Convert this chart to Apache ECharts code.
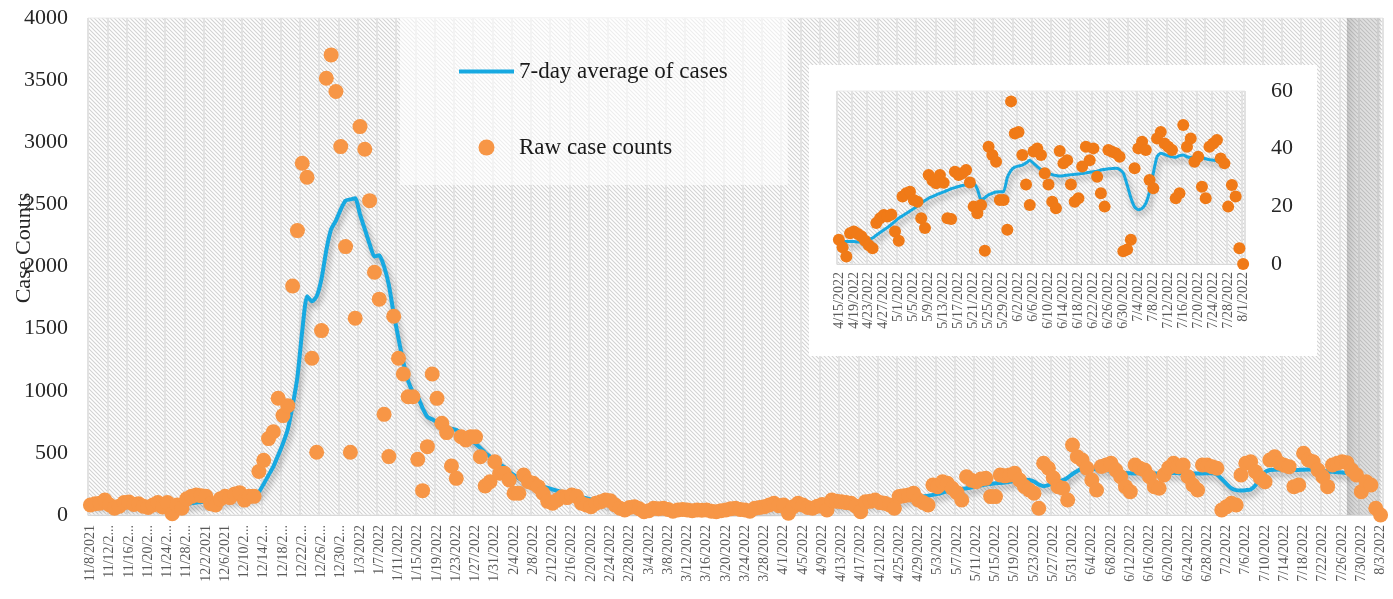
<!DOCTYPE html>
<html>
<head>
<meta charset="utf-8">
<script src="https://cdn.jsdelivr.net/npm/echarts@6/dist/echarts.min.js"></script>
<style>
  html, body { margin: 0; padding: 0; background: #fff; }
  #chart { width: 1393px; height: 599px; }
</style>
</head>
<body>
<div id="chart"></div>
<script>
// main chart: daily counts 11/8/2021 .. 8/3/2022
const mainStart = [2021, 11, 8];
const rawCases = [
  80, 90, 95, 120, 80, 55, 70, 100, 105, 85,
  90, 70, 60, 80, 100, 65, 100, 10, 80, 55,
  130, 150, 160, 155, 150, 90, 80, 130, 150, 140,
  170, 180, 120, 150, 150, 350, 440, 615, 670, 940,
  800, 880, 1843, 2289, 2831, 2718, 1261, 505, 1484, 3515,
  3703, 3408, 2965, 2160, 505, 1583, 3126, 2944, 2530, 1954,
  1737, 810, 470, 1600, 1262, 1135, 952, 952, 448, 196,
  550, 1135, 939, 738, 663, 394, 295, 630, 604, 630,
  630, 469, 233, 268, 429, 336, 336, 282, 175, 175,
  322, 268, 255, 228, 175, 110, 94, 121, 147, 140,
  161, 150, 94, 80, 67, 95, 107, 121, 115, 80,
  54, 40, 60, 67, 50, 27, 35, 54, 50, 54,
  45, 30, 40, 45, 40, 35, 40, 38, 40, 30,
  27, 35, 40, 50, 54, 45, 40, 30, 54, 60,
  67, 80, 94, 75, 80, 14, 67, 94, 80, 60,
  54, 70, 85, 40, 121, 110, 107, 100, 94, 70,
  27, 107, 110, 121, 100, 94, 80, 54, 148, 155,
  161, 175, 121, 100, 80, 241, 228, 268, 255, 215,
  180, 121, 308, 280, 268, 290, 295, 148, 148, 322,
  315, 322, 336, 282, 230, 201, 175, 54, 416, 376,
  300, 228, 215, 121, 563, 469, 443, 376, 282, 201,
  390, 402, 416, 362, 308, 228, 188, 402, 376, 362,
  308, 228, 215, 322, 380, 416, 389, 402, 308, 241,
  201, 402, 402, 389, 376, 40, 67, 94, 80, 322,
  416, 429, 349, 300, 268, 443, 469, 416, 400, 389,
  228, 241, 497, 443, 429, 362, 308, 228, 402, 416,
  429, 420, 362, 322, 188, 268, 241, 54, 0
];
const avgCases = [
  85, 86, 88, 88, 87, 86, 85, 84, 84, 83,
  82, 81, 80, 80, 79, 78, 77, 76, 78, 82,
  88, 95, 100, 105, 110, 115, 118, 120, 123, 128,
  133, 138, 140, 145, 150, 185, 250, 320, 390, 480,
  575, 690, 880, 1110, 1480, 1760, 1720, 1760, 1900, 2130,
  2300, 2370, 2460, 2530, 2540, 2550, 2420, 2300, 2180, 2080,
  2090, 2000, 1850, 1620, 1420, 1230, 1080, 990, 950, 860,
  790, 770, 745, 720, 705, 695, 685, 660, 630, 600,
  575, 540, 500, 470, 440, 410, 385, 350, 320, 295,
  270, 255, 245, 235, 228, 218, 205, 195, 185, 175,
  165, 155, 145, 135, 125, 115, 108, 100, 92, 85,
  78, 72, 68, 64, 60, 56, 53, 50, 48, 46,
  45, 44, 43, 42, 42, 41, 41, 40, 40, 40,
  40, 41, 42, 43, 45, 47, 50, 53, 56, 60,
  63, 66, 68, 70, 72, 74, 76, 78, 80, 80,
  80, 82, 85, 88, 90, 92, 93, 92, 90, 90,
  92, 95, 98, 100, 100, 102, 106, 112, 120, 128,
  135, 140, 145, 150, 155, 162, 170, 180, 190, 198,
  205, 210, 215, 222, 230, 238, 245, 250, 255, 258,
  262, 268, 275, 282, 285, 282, 270, 245, 232, 240,
  255, 268, 280, 300, 330, 355, 372, 375, 372, 368,
  365, 362, 355, 348, 342, 338, 336, 335, 336, 336,
  335, 334, 335, 336, 337, 338, 337, 336, 335, 334,
  334, 335, 336, 336, 325, 290, 250, 215, 200, 198,
  200, 205, 240, 300, 345, 362, 365, 366, 364, 362,
  362, 363, 365, 366, 364, 360, 355, 350, 348, 345,
  342, 338, 335, null, null, null, null, null, null
];
const mainShade = ['7/27/2022', '8/3/2022'];

// inset: 4/15/2022 .. 8/1/2022
const insetStart = [2022, 4, 15];
const insetRaw = [
  8.4, 5.8, 2.6, 10.7, 11.3, 10.5, 9.6, 8.1, 6.5, 5.5,
  14.2, 15.9, 17.0, 16.5, 17.2, 11.3, 8.1, 23.4, 24.5, 25.1,
  22.2, 21.6, 15.9, 12.5, 30.9, 29.0, 28.0, 30.9, 28.2, 15.9,
  15.6, 32.0, 30.9, 31.5, 32.6, 28.3, 19.9, 17.6, 20.5, 4.6,
  40.7, 37.8, 35.5, 22.2, 22.2, 11.9, 56.4, 45.3, 45.8, 37.8,
  27.6, 20.5, 39.0, 40.1, 37.8, 31.5, 27.6, 21.6, 19.3, 39.2,
  34.9, 36.0, 27.6, 21.6, 22.8, 33.8, 40.7, 36.0, 40.1, 30.3,
  24.5, 19.9, 39.5, 38.9, 38.4, 37.2, 4.4, 5.0, 8.4, 33.2,
  40.1, 42.4, 39.5, 29.1, 26.3, 43.5, 45.8, 41.8, 40.7, 39.5,
  22.8, 24.5, 48.2, 40.7, 43.5, 35.5, 37.2, 26.8, 22.8, 40.7,
  41.8, 43.0, 36.6, 34.9, 19.9, 27.4, 23.4, 5.5, 0
];
const insetAvg = [
  null, 7.8, 7.8, 7.8, 7.8, 7.6, 7.8, 8.2, 8.6, 9.0,
  10.0, 10.9, 11.8, 12.7, 13.7, 14.8, 15.9, 16.7, 17.5, 18.4,
  19.2, 20.2, 21.2, 22.0, 22.8, 23.4, 24.0, 24.5, 25.0, 25.5,
  26.1, 26.5, 26.9, 27.2, 27.4, 27.6, 28.0, 26.0, 22.2, 23.0,
  24.0, 24.5, 25.0, 25.1, 25.1, 30.0, 32.5, 33.6, 34.0, 34.3,
  35.0, 36.0, 34.9, 33.8, 32.8, 32.0, 31.5, 31.0, 30.7, 30.5,
  30.6, 30.8, 31.0, 31.1, 31.2, 31.4, 31.6, 31.8, 32.0, 32.2,
  32.6, 32.8, 33.0, 33.1, 33.2, 32.8, 31.5, 27.5, 23.0, 19.8,
  18.8, 19.3, 21.0, 25.1, 31.5, 37.2, 38.4, 38.0, 37.5, 37.2,
  37.0, 37.6, 37.8, 37.2, 36.9, 37.2, 37.2, 36.8, 36.5, 36.2,
  36.0, 35.8, 35.5, null, null, null, null, null, null
];
const insetShade = ['7/27/2022', '8/1/2022'];

const serif = '"Liberation Serif", "DejaVu Serif", serif';

function dayLabels(start, count) {
  const out = [];
  const d = new Date(start[0], start[1] - 1, start[2], 12);
  for (let k = 0; k < count; k++) {
    out.push((d.getMonth() + 1) + '/' + d.getDate() + '/' + d.getFullYear());
    d.setDate(d.getDate() + 1);
  }
  return out;
}

// light diagonal hatch like the Excel plot area fill
function hatch() {
  const c = document.createElement('canvas');
  c.width = 4; c.height = 4;
  const ctx = c.getContext('2d');
  const img = ctx.createImageData(4, 4);
  for (let y = 0; y < 4; y++) {
    for (let x = 0; x < 4; x++) {
      const d = ((x - y) % 4 + 4) % 4;
      const v = d === 0 ? 212 : (d === 2 ? 255 : 242);
      const p = (y * 4 + x) * 4;
      img.data[p] = v; img.data[p + 1] = v; img.data[p + 2] = v; img.data[p + 3] = 255;
    }
  }
  ctx.putImageData(img, 0, 0);
  return { image: c, repeat: 'repeat' };
}

const mainDates = dayLabels(mainStart, rawCases.length);
const insetDates = dayLabels(insetStart, insetRaw.length);
const pattern = hatch();

const lineShadow = { shadowColor: 'rgba(0,0,0,0.35)', shadowBlur: 6, shadowOffsetX: 2, shadowOffsetY: 4 };

const chart = echarts.init(document.getElementById('chart'));
chart.setOption({
  animation: false,
  textStyle: { fontFamily: serif },
  grid: [
    { left: 88, top: 18, width: 1295, height: 497, show: true, backgroundColor: pattern,
      borderWidth: 1, borderColor: '#ebebeb', outerBoundsMode: 'none' },
    { left: 837, top: 91, width: 408, height: 173, show: true, backgroundColor: pattern,
      borderWidth: 1, borderColor: '#ebebeb', z: 4, outerBoundsMode: 'none' }
  ],
  legend: {
    data: [
      { name: '7-day average of cases', icon: 'path://M0,0H55V4H0Z' },
      { name: 'Raw case counts', icon: 'circle' }
    ],
    orient: 'vertical',
    left: 400,
    top: 18,
    padding: [42, 60, 26, 59],
    itemGap: 53,
    itemWidth: 55,
    itemHeight: 16,
    backgroundColor: 'rgba(255,255,255,0.6)',
    selectedMode: false,
    textStyle: { fontSize: 23, color: '#1a1a1a', fontFamily: serif }
  },
  graphic: [
    { type: 'rect', x: 809, y: 65, shape: { width: 508, height: 291 },
      style: { fill: '#ffffff' }, z: 3, silent: true },
    { type: 'text', x: 24, y: 248, rotation: Math.PI / 2, z: 5, silent: true,
      style: { text: 'Case Counts', fill: '#262626', fontSize: 22, fontFamily: serif,
               align: 'center', verticalAlign: 'middle', textAlign: 'center', textVerticalAlign: 'middle' } }
  ],
  xAxis: [
    {
      gridIndex: 0, type: 'category', data: mainDates, boundaryGap: true,
      axisLine: { show: true, lineStyle: { color: '#d9d9d9' } },
      axisTick: { show: false },
      axisLabel: {
        interval: 3, rotate: 90, fontSize: 14, color: '#595959', margin: 10, fontFamily: serif,
        formatter: (v) => (v.length > 9 ? v.slice(0, 7) + '...' : v)
      },
      splitLine: { show: true, interval: 3, lineStyle: { color: '#e2e2e2', width: 2 } }
    },
    {
      gridIndex: 1, type: 'category', data: insetDates, boundaryGap: true, z: 5,
      axisLine: { show: true, lineStyle: { color: '#d9d9d9' } },
      axisTick: { show: false },
      axisLabel: { interval: 3, rotate: 90, fontSize: 14, color: '#595959', margin: 8, fontFamily: serif },
      splitLine: { show: true, interval: 3, lineStyle: { color: '#e2e2e2', width: 2 } }
    }
  ],
  yAxis: [
    {
      gridIndex: 0, type: 'value', min: 0, max: 4000, interval: 500,
      axisLine: { show: false }, axisTick: { show: false }, splitLine: { show: false },
      axisLabel: { fontSize: 22, color: '#262626', margin: 20, fontFamily: serif, formatter: (v) => String(v) }
    },
    {
      gridIndex: 1, type: 'value', position: 'right', min: 0, max: 60, interval: 20, z: 5,
      axisLine: { show: false }, axisTick: { show: false }, splitLine: { show: false },
      axisLabel: { fontSize: 22, color: '#262626', margin: 26, fontFamily: serif }
    }
  ],
  series: [
    {
      name: '7-day average of cases', type: 'line', xAxisIndex: 0, yAxisIndex: 0,
      data: avgCases, symbol: 'none', smooth: 0.2, z: 2,
      lineStyle: Object.assign({ color: '#17A9E1', width: 4 }, lineShadow),
      itemStyle: { color: '#17A9E1' }
    },
    {
      name: 'Raw case counts', type: 'scatter', xAxisIndex: 0, yAxisIndex: 0,
      data: rawCases, symbolSize: 15, z: 3,
      itemStyle: { color: '#F79646', opacity: 1 }
    },
    {
      name: 'main shade', type: 'line', xAxisIndex: 0, yAxisIndex: 0, data: [], z: 4, silent: true,
      markArea: {
        silent: true,
        itemStyle: {
          color: { type: 'linear', x: 0, y: 0, x2: 1, y2: 0, colorStops: [
            { offset: 0, color: 'rgba(100,100,100,0.36)' },
            { offset: 0.3, color: 'rgba(135,135,135,0.27)' },
            { offset: 1, color: 'rgba(145,145,145,0.25)' }
          ] }
        },
        data: [[{ xAxis: mainShade[0] }, { xAxis: mainShade[1] }]]
      }
    },
    {
      name: 'inset average', type: 'line', xAxisIndex: 1, yAxisIndex: 1,
      data: insetAvg, symbol: 'none', smooth: 0.2, z: 6,
      lineStyle: Object.assign({ color: '#17A9E1', width: 3 }, lineShadow)
    },
    {
      name: 'inset raw', type: 'scatter', xAxisIndex: 1, yAxisIndex: 1,
      data: insetRaw, symbolSize: 12, z: 7,
      itemStyle: { color: '#F07A17', opacity: 1 }
    },
    {
      name: 'inset shade', type: 'line', xAxisIndex: 1, yAxisIndex: 1, data: [], z: 8, silent: true,
      markArea: {
        silent: true,
        itemStyle: { color: 'rgba(130,130,130,0.32)' },
        data: [[{ xAxis: insetShade[0] }, { xAxis: insetShade[1] }]]
      }
    }
  ]
});
</script>
</body>
</html>
